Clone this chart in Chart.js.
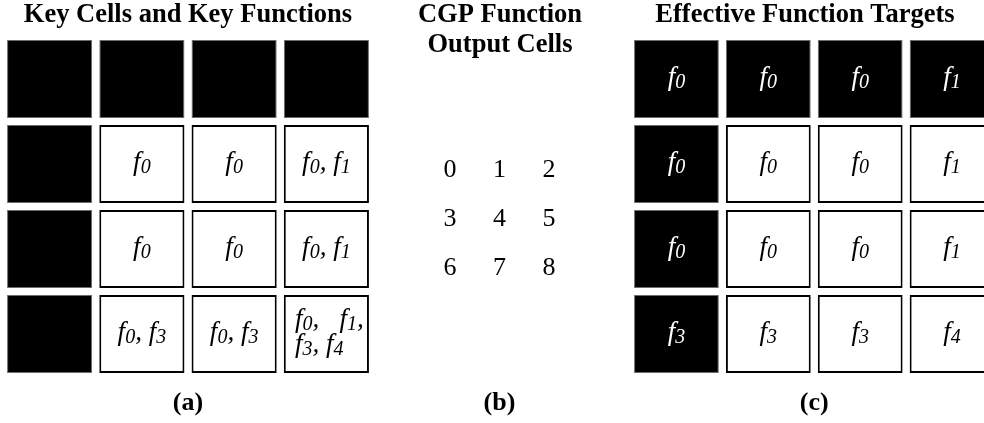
<!DOCTYPE html>
<html><head><meta charset="utf-8">
<script src="https://cdn.jsdelivr.net/npm/chart.js@4"></script>
<style>
html,body{margin:0;padding:0;background:#fff;overflow:hidden;width:984px;height:423px;}
canvas{position:absolute;top:0;}
#ca{left:0px;} #cb{left:400px;} #cc{left:612px;}
</style></head><body>
<canvas id="ca" width="376" height="423"></canvas>
<canvas id="cb" width="200" height="423"></canvas>
<canvas id="cc" width="386" height="423"></canvas>
<script>
// ---- data ----
const gridColumns = ['c0', 'c1', 'c2', 'c3'];
const gridRows = [0, 1, 2, 3];
// 1 = key cell (black), 0 = ordinary cell
const keyCells = [
  [1, 1, 1, 1],
  [1, 0, 0, 0],
  [1, 0, 0, 0],
  [1, 0, 0, 0]
];
const keyFunctionLabels = [
  ['', '', '', ''],
  ['', 'f0', 'f0', 'f0, f1'],
  ['', 'f0', 'f0', 'f0, f1'],
  ['', 'f0, f3', 'f0, f3', 'f0,   f1,\nf3, f4']
];
const effectiveTargetLabels = [
  ['f0', 'f0', 'f0', 'f1'],
  ['f0', 'f0', 'f0', 'f1'],
  ['f0', 'f0', 'f0', 'f1'],
  ['f3', 'f3', 'f3', 'f4']
];
const outputCellIds = [0, 1, 2, 3, 4, 5, 6, 7, 8];
const outputCols = [0, 1, 2, 0, 1, 2, 0, 1, 2];
const outputRows = [0, 0, 0, 1, 1, 1, 2, 2, 2];
const panelTitles = ['Key Cells and Key Functions', ['CGP Function', 'Output Cells'], 'Effective Function Targets'];
const panelCaptions = ['(a)', '(b)', '(c)'];

// ---- styling ----
const SERIF = '"Liberation Serif", "Times New Roman", serif';
const MAIN = 'italic 27px ' + SERIF;
const SUB = 'italic 20px ' + SERIF;
const rowInset = 0.041;

function tokens(line) {
  const t = [];
  for (let i = 0; i < line.length; i++) {
    const ch = line[i];
    t.push({ ch, sub: /\d/.test(ch) && i > 0 && line[i - 1] === 'f' });
  }
  return t;
}
function lineWidth(ctx, line) {
  let w = 0;
  for (const k of tokens(line)) { ctx.font = k.sub ? SUB : MAIN; w += ctx.measureText(k.ch).width; }
  return w;
}
function drawLine(ctx, line, x, y) {
  for (const k of tokens(line)) {
    ctx.font = k.sub ? SUB : MAIN;
    ctx.fillText(k.ch, x, y + (k.sub ? 3 : 0));
    x += ctx.measureText(k.ch).width;
  }
}

const cellText = {
  id: 'cellText',
  afterDatasetsDraw(chart) {
    const ctx = chart.ctx;
    ctx.save();
    ctx.textBaseline = 'alphabetic';
    ctx.textAlign = 'left';
    chart.data.datasets.forEach((ds, i) => {
      if (!ds.cellLabels) return;
      const meta = chart.getDatasetMeta(i);
      meta.data.forEach((bar, j) => {
        const label = ds.cellLabels[j];
        if (!label) return;
        const p = bar.getProps(['x', 'y', 'base'], true);
        const cy = (p.y + p.base) / 2;
        const lines = label.split('\n');
        ctx.fillStyle = ds.textColors[j];
        const widths = lines.map(l => lineWidth(ctx, l));
        const maxW = Math.max(...widths);
        lines.forEach((l, k) => {
          const x = lines.length > 1 ? p.x - maxW / 2 + 3 : p.x - widths[k] / 2;
          const y = cy + 6 + (k - (lines.length - 1) / 2) * 25;
          drawLine(ctx, l, x, y);
        });
      });
    });
    ctx.restore();
  }
};

const pointText = {
  id: 'pointText',
  afterDatasetsDraw(chart) {
    const ctx = chart.ctx;
    ctx.save();
    ctx.font = '26px ' + SERIF;
    ctx.fillStyle = '#000';
    ctx.textAlign = 'center';
    ctx.textBaseline = 'middle';
    chart.data.datasets.forEach((ds, i) => {
      const meta = chart.getDatasetMeta(i);
      meta.data.forEach((pt, j) => {
        const p = pt.getProps(['x', 'y'], true);
        ctx.fillText(String(ds.cellIds[j]), p.x, p.y + 2);
      });
    });
    ctx.restore();
  }
};

const titleFont = { family: SERIF, size: 26.5, weight: 'bold', lineHeight: 1.13 };
const captionFont = { family: SERIF, size: 26, weight: 'bold', lineHeight: 1.2 };
const hiddenAxis = { grid: { display: false, drawTicks: false }, border: { display: false }, ticks: { display: false } };

function gridChart(id, title, caption, labels, padL, padR, gutter) {
  const datasets = gridRows.map(r => ({
    data: gridColumns.map(() => [r + rowInset, r + 1 - rowInset]),
    backgroundColor: gridColumns.map((c, j) => keyCells[r][j] ? '#000' : '#fff'),
    borderColor: gridColumns.map((c, j) => keyCells[r][j] ? '#6b6b6b' : '#000'),
    borderWidth: gridColumns.map((c, j) => keyCells[r][j] ? 1 : 2),
    borderSkipped: false,
    grouped: false,
    categoryPercentage: 1,
    barPercentage: 0.923,
    cellLabels: labels[r],
    textColors: gridColumns.map((c, j) => keyCells[r][j] ? '#fff' : '#000')
  }));
  return new Chart(document.getElementById(id), {
    type: 'bar',
    data: { labels: gridColumns, datasets },
    plugins: [cellText],
    options: {
      responsive: false, animation: false, events: [],
      layout: { padding: { left: padL, right: padR, top: 0, bottom: 0 } },
      plugins: {
        legend: { display: false }, tooltip: { enabled: false },
        title: { display: true, text: title, font: titleFont, color: '#000', padding: { top: 0, bottom: 6.5 } }
      },
      scales: {
        x: Object.assign({ display: true,
          title: { display: true, text: caption, font: captionFont, color: '#000', padding: { top: 10.9, bottom: 4.4 } }
        }, hiddenAxis),
        y: Object.assign({
          min: 0, max: 4, reverse: true,
          display: gutter > 0,
          afterFit(s) { s.width = gutter; }
        }, hiddenAxis)
      }
    }
  });
}

gridChart('ca', panelTitles[0], panelCaptions[0], keyFunctionLabels, 3.5, 3.5, 0);
gridChart('cc', panelTitles[2], panelCaptions[2], effectiveTargetLabels, 0, 0, 18.5);

new Chart(document.getElementById('cb'), {
  type: 'scatter',
  data: {
    datasets: [{
      data: outputCellIds.map((id, i) => ({ x: outputCols[i], y: outputRows[i] })),
      pointRadius: 0,
      cellIds: outputCellIds
    }]
  },
  plugins: [pointText],
  options: {
    responsive: false, animation: false, events: [],
    layout: { padding: 0 },
    plugins: {
      legend: { display: false }, tooltip: { enabled: false },
      title: { display: true, text: panelTitles[1], font: titleFont, color: '#000', padding: { top: 0, bottom: 83.5 } }
    },
    scales: {
      x: Object.assign({
        type: 'linear', min: -0.5, max: 2.5, display: true,
        title: { display: true, text: panelCaptions[1], font: captionFont, color: '#000', padding: { top: 96.9, bottom: 4.4 } }
      }, hiddenAxis),
      y: Object.assign({ type: 'linear', min: -0.5, max: 2.5, reverse: true, display: true, position: 'left',
        afterFit(s) { s.width = 25.25; } }, hiddenAxis),
      y2: Object.assign({ type: 'linear', display: true, position: 'right',
        afterFit(s) { s.width = 26.25; } }, hiddenAxis)
    }
  }
});
</script></body></html>
